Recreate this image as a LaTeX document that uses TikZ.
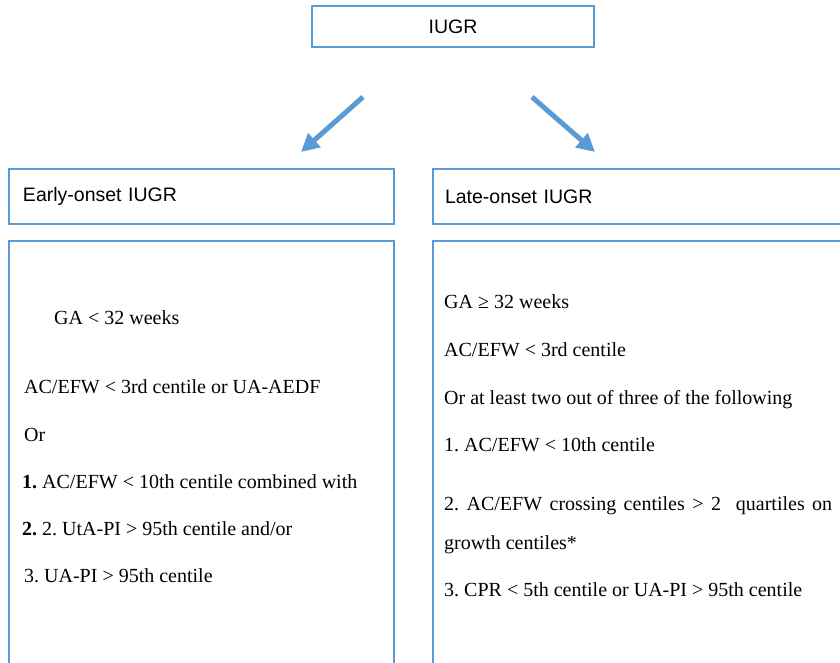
\documentclass[tikz,border=0pt]{standalone}
\usepackage{fontspec}
\setmainfont{Liberation Serif}
\newfontfamily\headfont{Liberation Sans}
\usetikzlibrary{arrows.meta}
\definecolor{boxblue}{RGB}{91,155,213}
\frenchspacing

\begin{document}
\begin{tikzpicture}[x=1pt, y=-1pt,
  frame/.style={draw=boxblue, line width=2pt},
  head/.style={font=\headfont\fontsize{19.5}{23}\selectfont},
  crit/.style={anchor=base west, inner sep=0pt, font=\fontsize{20}{24}\selectfont},
  flow/.style={draw=boxblue, line width=5pt, -{Triangle[length=18pt, width=18pt]}}]
\useasboundingbox (0,0) rectangle (840,662);
\clip (0,0) rectangle (840,662);

% top box
\node[frame, head, inner sep=0pt, minimum width=282pt, minimum height=41pt] (root) at (453,26.5) {IUGR};

% arrows towards the two subtypes
\coordinate (lstart) at (363,97);
\coordinate (lend) at (301,152);
\coordinate (rstart) at (532,97);
\coordinate (rend) at (595,152);
\draw[flow] (lstart) -- (lend);
\draw[flow] (rstart) -- (rend);

% heading boxes
\node[frame, head, anchor=north west, inner xsep=14pt, inner ysep=0pt,
      text width=357pt, align=left, minimum height=55pt] (early) at (8,168) {Early-onset IUGR};
\node[frame, head, anchor=north west, inner xsep=12pt, inner ysep=0pt,
      text width=420pt, align=left, minimum height=55pt] (late) at (432,168) {Late-onset IUGR};

% criteria boxes
\node[frame, anchor=north west, inner sep=0pt, minimum width=385pt, minimum height=440pt] (earlycrit) at (8,240) {};
\node[frame, anchor=north west, inner sep=0pt, minimum width=440pt, minimum height=440pt] (latecrit) at (432,240) {};

% early-onset criteria
\node[crit] (e1) at (54,324) {GA < 32 weeks};
\node[crit] (e2) at (24,393) {AC/EFW < 3rd centile or UA-AEDF};
\node[crit] (e3) at (24,441) {Or};
\node[crit] (e4) at (22,488) {\textbf{1.} AC/EFW < 10th centile combined with};
\node[crit] (e5) at (22,535) {\textbf{2.} 2. UtA-PI > 95th centile and/or};
\node[crit] (e6) at (24,582) {3. UA-PI > 95th centile};

% late-onset criteria
\node[crit] (l1) at (444,308) {GA ≥ 32 weeks};
\node[crit] (l2) at (444,356) {AC/EFW < 3rd centile};
\node[crit] (l3) at (444,404) {Or at least two out of three of the following};
\node[crit] (l4) at (444,451) {1. AC/EFW < 10th centile};
\node[crit] (l5) at (444,510) {\makebox[388pt][s]{2. AC/EFW crossing centiles > 2\ \ quartiles on}};
\node[crit] (l6) at (444,549) {growth centiles*};
\node[crit] (l7) at (444,596) {3. CPR < 5th centile or UA-PI > 95th centile};
\end{tikzpicture}
\end{document}
